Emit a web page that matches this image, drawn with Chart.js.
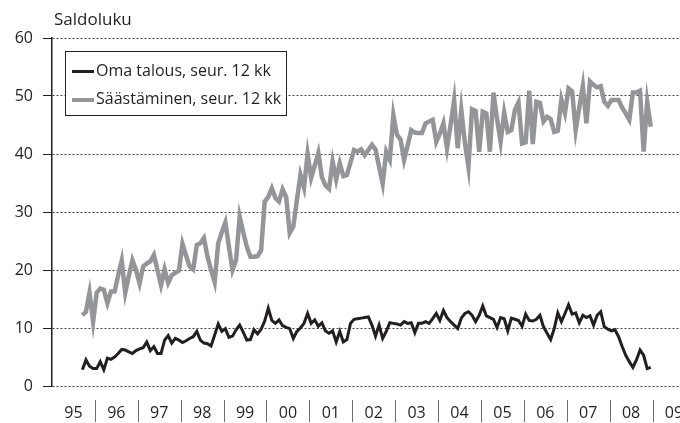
<!DOCTYPE html>
<html>
<head>
<meta charset="utf-8">
<script src="https://cdn.jsdelivr.net/npm/chart.js@4.4.1/dist/chart.umd.min.js"></script>
<style>
  html, body { margin: 0; padding: 0; background: #fff; }
  #wrap { position: relative; width: 680px; height: 423px; font-family: "Open Sans", sans-serif; color: #231f20; }
  #otsikko { position: absolute; left: 54px; top: 7px; font-size: 17px; }
  #selite { position: absolute; left: 65px; top: 51px; width: 220px; height: 63px; border: 1px solid #231f20; background: #fff; font-size: 16px; }
  .rivi { position: absolute; left: 6px; height: 20px; line-height: 20px; white-space: nowrap; }
  .rivi span { display: inline-block; width: 22px; vertical-align: middle; margin-right: 2px; }
</style>
</head>
<body>
<div id="wrap">
  <canvas id="kuvio" width="680" height="423"></canvas>
  <div id="otsikko">Saldoluku</div>
  <div id="selite">
    <div class="rivi" style="top:8px"><span style="height:3px;background:#231f20"></span>Oma talous, seur. 12 kk</div>
    <div class="rivi" style="top:36px"><span style="height:4px;background:#939598"></span>Säästäminen, seur. 12 kk</div>
  </div>
</div>

<script>
// kuukausisarjat syyskuusta 1995 joulukuuhun 2008
const alkuVuosi = 1995;
const alkuKk = 8; // syyskuu (0 = tammikuu)

const omaTalous = [
  2.8, 4.5, 3.4, 3.0, 3.0, 4.2, 2.8, 4.8, 4.6, 5.0, 5.6, 6.3, 6.2, 5.9, 5.6, 6.1,
  6.4, 6.6, 7.6, 6.1, 6.8, 5.6, 5.6, 7.9, 8.7, 7.4, 8.2, 7.9, 7.5, 7.8, 8.2, 8.5,
  9.4, 7.9, 7.4, 7.3, 6.9, 8.8, 10.7, 9.4, 9.9, 8.4, 8.6, 9.7, 10.5, 9.3, 7.9, 8.0,
  9.7, 9.0, 9.8, 11.2, 13.4, 11.3, 10.8, 11.4, 10.4, 10.1, 9.9, 8.2, 9.4, 10.0, 10.8, 12.5,
  10.8, 11.4, 10.3, 10.9, 9.5, 9.1, 9.5, 7.6, 9.4, 7.6, 8.0, 10.8, 11.5, 11.6, 11.7, 11.8,
  11.9, 10.5, 8.6, 10.5, 8.2, 9.4, 10.9, 10.8, 10.7, 10.5, 11.1, 10.8, 10.9, 9.2, 10.8, 10.8,
  11.1, 10.8, 11.6, 12.5, 11.3, 13.0, 11.8, 11.1, 10.5, 9.9, 11.7, 12.5, 12.8, 12.2, 11.1, 12.2,
  13.8, 12.1, 11.8, 11.5, 10.1, 11.8, 11.6, 9.5, 11.7, 11.5, 11.3, 10.3, 12.4, 11.3, 11.2, 11.5,
  12.2, 10.2, 9.1, 8.0, 9.9, 12.6, 11.1, 12.5, 14.0, 12.4, 12.6, 10.9, 12.2, 11.8, 12.1, 10.5,
  12.2, 12.8, 10.2, 9.8, 9.5, 9.7, 8.5, 6.8, 5.3, 4.2, 3.2, 4.5, 6.2, 5.3, 3.0, 3.2
];

const saastaminen = [
  12.2, 12.8, 16.1, 11.1, 16.1, 16.8, 16.6, 14.3, 16.3, 16.3, 19.0, 21.6, 16.1, 19.0, 21.7, 20.0,
  17.7, 20.6, 21.1, 21.5, 22.6, 20.0, 17.4, 20.1, 17.8, 19.1, 19.5, 19.9, 24.5, 22.5, 20.6, 20.1,
  24.3, 24.6, 25.5, 22.3, 20.0, 17.9, 24.6, 26.5, 28.2, 24.0, 20.0, 21.7, 29.2, 26.5, 24.0, 22.3,
  22.3, 22.4, 23.4, 31.8, 32.6, 34.1, 32.4, 31.8, 33.9, 32.6, 26.4, 27.5, 32.0, 36.4, 34.2, 40.0,
  35.9, 38.0, 40.2, 36.0, 34.6, 34.0, 38.7, 35.6, 38.4, 36.2, 36.4, 38.5, 40.7, 40.4, 40.8, 39.8,
  40.7, 41.6, 40.8, 37.8, 34.9, 40.4, 39.0, 46.7, 43.3, 42.5, 39.0, 41.5, 44.1, 43.7, 43.6, 43.6,
  45.3, 45.6, 45.9, 42.1, 43.5, 45.3, 41.0, 45.0, 49.3, 41.0, 47.6, 42.0, 37.8, 47.7, 47.4, 40.4,
  47.3, 47.0, 40.4, 50.6, 46.0, 42.1, 47.1, 43.8, 44.1, 47.6, 48.9, 41.8, 42.0, 50.9, 41.7, 49.0,
  48.8, 45.6, 46.4, 46.0, 43.8, 44.0, 49.4, 47.1, 51.3, 50.8, 44.1, 48.0, 51.7, 45.3, 52.5, 51.9,
  51.5, 51.7, 49.0, 48.3, 49.3, 49.3, 49.3, 48.0, 47.0, 45.9, 50.6, 50.6, 50.9, 40.4, 49.0, 44.7
];

const vuosiOtsikot = ['95', '96', '97', '98', '99', '00', '01', '02', '03', '04', '05', '06', '07', '08', '09'];
const yArvot = [0, 10, 20, 30, 40, 50, 60];

function pisteet(sarja) {
  return sarja.map((v, i) => ({ x: alkuVuosi + (alkuKk + i + 0.5) / 12, y: v }));
}

// vuosien väliset pystyviivat x-akselin alla
const erottimet = {
  id: 'erottimet',
  afterDraw(chart) {
    const sc = chart.scales.x;
    const c = chart.ctx;
    c.save();
    c.strokeStyle = '#6d6e71';
    c.lineWidth = 1;
    for (let i = 1; i < vuosiOtsikot.length; i++) {
      const px = Math.round(sc.getPixelForValue(alkuVuosi + i)) + 0.5;
      c.beginPath();
      c.moveTo(px, 400);
      c.lineTo(px, 422);
      c.stroke();
    }
    c.restore();
  }
};

const ctx = document.getElementById('kuvio').getContext('2d');

new Chart(ctx, {
  type: 'line',
  data: {
    datasets: [
      {
        label: 'Säästäminen, seur. 12 kk',
        data: pisteet(saastaminen),
        borderColor: '#939598',
        borderWidth: 4.5,
        pointRadius: 0,
        tension: 0
      },
      {
        label: 'Oma talous, seur. 12 kk',
        data: pisteet(omaTalous),
        borderColor: '#231f20',
        borderWidth: 3,
        pointRadius: 0,
        tension: 0
      }
    ]
  },
  options: {
    responsive: false,
    animation: false,
    devicePixelRatio: 1,
    layout: { padding: { top: 38, right: 0, left: 0, bottom: 0 } },
    plugins: {
      legend: { display: false },
      tooltip: { enabled: false }
    },
    scales: {
      x: {
        type: 'linear',
        min: alkuVuosi,
        max: 2009.64,
        afterBuildTicks: (s) => {
          s.ticks = vuosiOtsikot.map((t, i) => ({ value: alkuVuosi + i + 0.5 }));
        },
        afterFit: (s) => { s.height = 37; s.paddingLeft = 0; s.paddingRight = 0; },
        grid: { display: false, drawTicks: false },
        border: { display: false },
        ticks: {
          autoSkip: false,
          maxRotation: 0,
          padding: 18,
          color: '#231f20',
          font: { family: 'Open Sans', size: 16 },
          callback: (v) => vuosiOtsikot[Math.floor(v) - alkuVuosi]
        }
      },
      y: {
        min: 0,
        max: 60,
        afterBuildTicks: (s) => { s.ticks = yArvot.map(v => ({ value: v })); },
        afterFit: (s) => { s.width = 52; },
        grid: {
          color: '#414042',
          lineWidth: 1,
          tickLength: 9,
          tickColor: '#231f20',
          tickBorderDash: []
        },
        border: { display: true, color: '#231f20', width: 1.5, dash: [2, 2] },
        ticks: {
          padding: 10,
          color: '#231f20',
          font: { family: 'Open Sans', size: 16 }
        }
      }
    }
  },
  plugins: [erottimet]
});
</script>
</body>
</html>
